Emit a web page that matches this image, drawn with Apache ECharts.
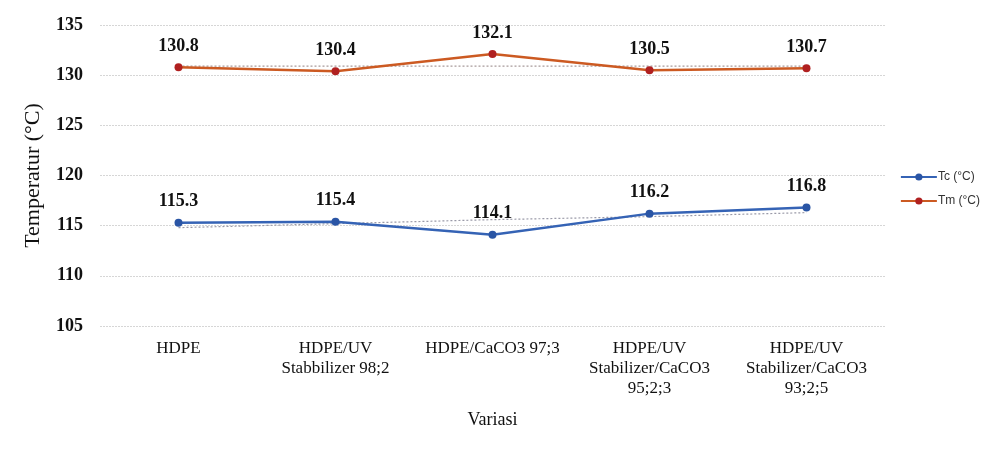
<!DOCTYPE html>
<html><head><meta charset="utf-8">
<script src="https://cdn.jsdelivr.net/npm/echarts@6/dist/echarts.min.js"></script>
<style>html,body{margin:0;padding:0;background:#fff}#c{width:995px;height:450px}</style>
</head><body><div id="c"></div>
<script>
const categories = ['HDPE', 'HDPE/UV\nStabbilizer 98;2', 'HDPE/CaCO3 97;3', 'HDPE/UV\nStabilizer/CaCO3\n95;2;3', 'HDPE/UV\nStabilizer/CaCO3\n93;2;5'];
const tcValues = [115.3, 115.4, 114.1, 116.2, 116.8];
const tmValues = [130.8, 130.4, 132.1, 130.5, 130.7];
// dotted trend lines
const tcTrend = [114.8, 115.2, 115.6, 115.9, 116.3];
const tmTrend = [130.9, 130.9, 130.9, 130.9, 130.9];
const yTicks = [105, 110, 115, 120, 125, 130, 135];

const serif = '"Liberation Serif", "DejaVu Serif", serif';
const chart = echarts.init(document.getElementById('c'));
chart.setOption({
  animation: false,
  backgroundColor: '#fff',
  grid: { left: 100, right: 110, top: 25, bottom: 124 },
  legend: {
    orient: 'vertical', right: 10, top: 166, itemGap: 12,
    itemWidth: 36, itemHeight: 9,
    data: ['Tc (°C)', 'Tm (°C)'],
    textStyle: { fontFamily: '"Liberation Sans", sans-serif', fontSize: 12, color: '#333', padding: [0, 0, 0, -4] }
  },
  xAxis: {
    type: 'category', data: categories,
    name: 'Variasi', nameLocation: 'middle', nameGap: 85,
    nameTextStyle: { fontFamily: serif, fontSize: 18, color: '#111' },
    axisLine: { show: false }, axisTick: { show: false },
    axisLabel: { fontFamily: serif, fontSize: 17, color: '#111', lineHeight: 20, margin: 13, interval: 0 }
  },
  yAxis: {
    type: 'value', min: yTicks[0], max: yTicks[yTicks.length - 1], interval: 5,
    name: 'Temperatur (°C)', nameLocation: 'middle', nameGap: 56,
    nameTextStyle: { fontFamily: serif, fontSize: 22, color: '#111' },
    axisLine: { show: false }, axisTick: { show: false },
    axisLabel: { fontFamily: serif, fontSize: 18, fontWeight: 'bold', color: '#111', margin: 17 },
    splitLine: { lineStyle: { color: '#d6d6d6', width: 1, type: [2, 1] } }
  },
  series: [
    {
      name: 'Tc trend', type: 'line', data: tcTrend, symbol: 'none', silent: true,
      lineStyle: { color: '#9a9aa8', width: 1.2, type: [2, 2] }, z: 1
    },
    {
      name: 'Tm trend', type: 'line', data: tmTrend, symbol: 'none', silent: true,
      lineStyle: { color: '#a89a9a', width: 1.2, type: [2, 2] }, z: 1
    },
    {
      name: 'Tc (°C)', type: 'line', data: tcValues,
      symbol: 'circle', symbolSize: 8,
      lineStyle: { color: '#3563b5', width: 2.5 },
      itemStyle: { color: '#2a55a5' },
      label: { show: true, position: 'top', distance: 8, fontFamily: serif, fontSize: 18, fontWeight: 'bold', color: '#111' },
      z: 3
    },
    {
      name: 'Tm (°C)', type: 'line', data: tmValues,
      symbol: 'circle', symbolSize: 8,
      lineStyle: { color: '#cc5a22', width: 2.5 },
      itemStyle: { color: '#b02020' },
      label: { show: true, position: 'top', distance: 8, fontFamily: serif, fontSize: 18, fontWeight: 'bold', color: '#111' },
      z: 3
    }
  ]
});
</script></body></html>
